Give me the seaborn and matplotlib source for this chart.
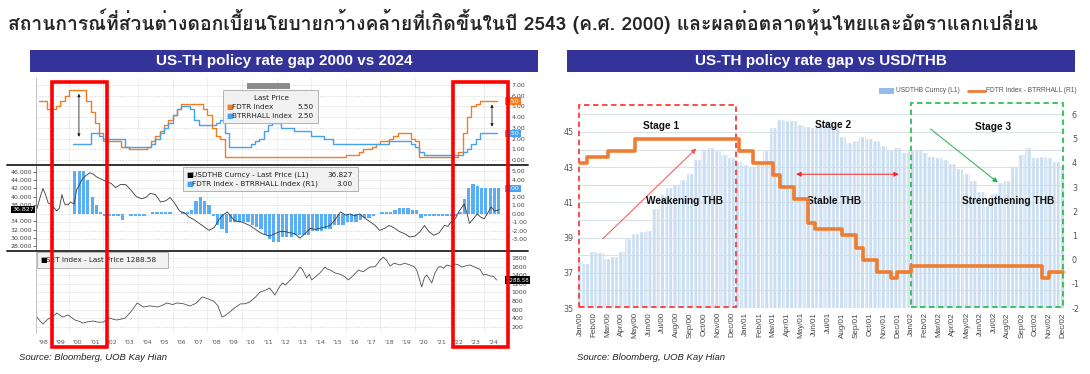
import numpy as np
import matplotlib
matplotlib.use('Agg')
import matplotlib.pyplot as plt
import seaborn as sns
from matplotlib import font_manager as fm
from matplotlib.patches import Rectangle
from matplotlib.lines import Line2D
from matplotlib.ticker import MultipleLocator

# ---------------- data ----------------
title_th = 'สถานการณ์ที่ส่วนต่างดอกเบี้ยนโยบายกว้างคล้ายที่เกิดขึ้นในปี 2543 (ค.ศ. 2000) และผลต่อตลาดหุ้นไทยและอัตราแลกเปลี่ยน'
left_title = 'US-TH policy rate gap 2000 vs 2024'
right_title = 'US-TH policy rate gap vs USD/THB'
source = 'Source: Bloomberg, UOB Kay Hian'

# quarterly policy rates, 1997 Q4 .. 2024 Q2 (chart time axis)
quarter_year = np.arange(1997.75, 2024.3, 0.25)
fdtr = [
    5.5,
    5.5, 4.75, 4.75, 5.0,      # 1998
    5.5, 6.0, 6.5, 6.5,        # 1999
    6.5, 6.5, 5.5, 4.5,        # 2000
    3.5, 2.5, 1.75, 1.75,      # 2001
    1.75, 1.75, 1.25, 1.25,    # 2002
    1.0, 1.0, 1.0, 1.0,        # 2003
    1.25, 1.75, 2.25, 2.75,    # 2004
    3.25, 3.75, 4.25, 4.75,    # 2005
    5.25, 5.25, 5.25, 5.25,    # 2006
    5.25, 4.75, 4.25, 3.0,     # 2007
    2.25, 2.0, 0.25, 0.25,     # 2008
    0.25, 0.25, 0.25, 0.25,    # 2009
    0.25, 0.25, 0.25, 0.25,    # 2010
    0.25, 0.25, 0.25, 0.25,    # 2011
    0.25, 0.25, 0.25, 0.25,    # 2012
    0.25, 0.25, 0.25, 0.25,    # 2013
    0.25, 0.25, 0.25, 0.25,    # 2014
    0.25, 0.25, 0.5, 0.5,      # 2015
    0.5, 0.75, 1.0, 1.0,       # 2016
    1.25, 1.5, 1.75, 1.75,     # 2017
    2.0, 2.25, 2.5, 2.5,       # 2018
    2.5, 2.0, 1.75, 0.25,      # 2019
    0.25, 0.25, 0.25, 0.25,    # 2020
    0.25, 0.25, 0.25, 0.25,    # 2021
    0.75, 2.5, 4.0, 5.0,       # 2022
    5.25, 5.5, 5.5, 5.5,       # 2023
    5.5, 5.5,                  # 2024
]
nan = np.nan
btrrhall = [
    nan,
    nan, nan, nan, nan,        # 1998
    nan, nan, nan, 1.5,        # 1999
    1.5, 1.5, 1.5, 2.5,        # 2000
    2.5, 2.25, 2.0, 2.0,       # 2001
    2.0, 2.0, 2.0, 1.25,       # 2002
    1.25, 1.25, 1.25, 1.25,    # 2003
    1.25, 1.5, 2.0, 2.5,       # 2004
    3.0, 3.5, 4.25, 4.75,      # 2005
    5.0, 5.0, 4.75, 3.75,      # 2006
    3.25, 3.25, 3.25, 3.25,    # 2007
    3.5, 3.75, 2.5, 1.25,      # 2008
    1.25, 1.25, 1.25, 1.25,    # 2009
    1.5, 1.75, 2.0, 2.75,      # 2010
    3.25, 3.5, 3.5, 3.0,       # 2011
    3.0, 3.0, 2.75, 2.75,      # 2012
    2.75, 2.75, 2.25, 2.25,    # 2013
    2.25, 2.0, 2.0, 1.5,       # 2014
    1.5, 1.5, 1.5, 1.5,        # 2015
    1.5, 1.5, 1.5, 1.5,        # 2016
    1.5, 1.5, 1.5, 1.5,        # 2017
    1.75, 1.75, 1.75, 1.75,    # 2018
    1.75, 1.5, 1.25, 0.75,     # 2019
    0.5, 0.5, 0.5, 0.5,        # 2020
    0.5, 0.5, 0.5, 0.5,        # 2021
    0.5, 0.75, 1.0, 1.5,       # 2022
    2.0, 2.5, 2.5, 2.5,        # 2023
    2.5, 2.5,                  # 2024
]

usd_year = [
    1997.65, 1997.85, 1998.0, 1998.15, 1998.3, 1998.5, 1998.8, 1998.95, 1999.1, 1999.25,
    1999.45, 1999.6, 1999.8, 1999.95, 2000.1, 2000.25, 2000.45, 2000.7, 2000.9, 2001.1,
    2001.4, 2001.7, 2001.95, 2002.2, 2002.5, 2002.8, 2003.1, 2003.4, 2003.7, 2003.95,
    2004.2, 2004.5, 2004.8, 2005.1, 2005.35, 2005.6, 2005.9, 2006.2, 2006.45, 2006.7,
    2006.9, 2007.2, 2007.6, 2007.9, 2008.2, 2008.4, 2008.65, 2008.9, 2009.1, 2009.5,
    2009.95, 2010.3, 2010.65, 2011.1, 2011.4, 2011.7, 2012.0, 2012.3, 2012.55, 2012.85,
    2013.15, 2013.45, 2013.75, 2014.0, 2014.3, 2014.6, 2014.9, 2015.2, 2015.5, 2015.75,
    2016.0, 2016.3, 2016.6, 2016.9, 2017.2, 2017.45, 2017.75, 2018.0, 2018.3, 2018.6,
    2018.9, 2019.2, 2019.5, 2019.8, 2020.05, 2020.3, 2020.6, 2020.9, 2021.2, 2021.4,
    2021.6, 2021.85, 2022.05, 2022.35, 2022.5, 2022.65, 2022.85, 2023.1, 2023.3, 2023.5,
    2023.7, 2023.9, 2024.1, 2024.35,
]
usd_thb = [
    37.0, 40.0, 42.0, 40.5, 38.5, 38.0, 36.5, 37.2, 40.5, 38.2,
    38.0, 38.7, 38.2, 41.7, 42.8, 44.1, 45.0, 45.8, 45.5, 44.8,
    44.2, 43.6, 43.2, 42.2, 43.0, 42.9, 41.5, 40.0, 39.5, 39.8,
    40.8, 40.5, 38.7, 39.0, 39.8, 38.5, 36.5, 36.0, 35.0, 34.5,
    33.9, 33.0, 31.8, 32.5, 34.6, 35.5, 36.3, 35.0, 34.1, 33.8,
    33.0, 32.0, 31.0, 30.4, 31.0, 31.5, 31.5, 31.2, 31.0, 29.9,
    31.0, 32.3, 32.0, 32.3, 32.6, 33.0, 34.5, 36.3, 35.5, 35.8,
    35.3, 35.8, 34.8, 33.9, 33.0, 31.8, 32.3, 33.0, 32.4, 31.5,
    31.0, 30.2, 30.4, 31.5, 33.0, 31.5, 30.6, 31.2, 33.0, 32.8,
    33.9, 34.8, 36.5, 38.2, 36.0, 33.5, 34.5, 35.8, 35.0, 34.6,
    36.0, 37.5, 36.5, 36.8,
]

set_year = [
    1997.65, 1997.85, 1998.0, 1998.15, 1998.3, 1998.55, 1998.8, 1999.0, 1999.15, 1999.45,
    1999.65, 1999.85, 2000.1, 2000.3, 2000.6, 2000.9, 2001.2, 2001.5, 2001.7, 2001.87,
    2002.05, 2002.25, 2002.5, 2002.75, 2003.1, 2003.45, 2003.8, 2004.2, 2004.6, 2004.9,
    2005.15, 2005.5, 2005.75, 2006.1, 2006.5, 2006.85, 2007.2, 2007.5, 2007.85, 2008.1,
    2008.35, 2008.55, 2008.8, 2009.1, 2009.4, 2009.7, 2009.95, 2010.3, 2010.55, 2010.85,
    2011.1, 2011.4, 2011.7, 2011.87, 2012.0, 2012.2, 2012.47, 2012.86, 2013.0, 2013.24,
    2013.4, 2013.53, 2013.8, 2014.0, 2014.3, 2014.45, 2014.6, 2014.9, 2015.2, 2015.46,
    2015.65, 2015.9, 2016.23, 2016.5, 2016.9, 2017.2, 2017.48, 2017.67, 2017.85, 2018.06,
    2018.3, 2018.64, 2018.9, 2019.21, 2019.45, 2019.6, 2019.89, 2020.05, 2020.18, 2020.35,
    2020.47, 2020.65, 2020.85, 2021.0, 2021.15, 2021.33, 2021.6, 2021.82, 2022.0, 2022.2,
    2022.45, 2022.68, 2022.9, 2023.07, 2023.25, 2023.45, 2023.6, 2023.84, 2024.05, 2024.22,
]
set_index = [
    431, 330, 270, 330, 385, 430, 524, 470, 431, 478,
    420, 362, 330, 292, 320, 338, 310, 315, 380, 408,
    380, 362, 380, 408, 560, 756, 663, 690, 663, 700,
    756, 720, 756, 740, 686, 750, 895, 860, 802, 700,
    431, 470, 547, 650, 733, 740, 779, 900, 1011, 1050,
    1104, 941, 1150, 1220, 1173, 1250, 1360, 1590, 1530, 1336,
    1420, 1290, 1380, 1450, 1590, 1540, 1520, 1450, 1420, 1360,
    1290, 1380, 1520, 1480, 1590, 1600, 1750, 1820, 1750, 1613,
    1680, 1637, 1680, 1637, 1600, 1520, 1127, 1350, 1406, 1300,
    1220, 1450, 1590, 1600, 1560, 1637, 1610, 1660, 1640, 1590,
    1620, 1637, 1600, 1567, 1540, 1406, 1420, 1383, 1370, 1289,
]

# right chart: half-month steps, Jan/00 .. Dec/02 (0 = Jan/00)
thb_month = np.arange(0, 35.01, 0.5)
thb_rate = [
    37.6, 37.5, 38.2, 38.1, 37.8, 37.9, 38.2, 38.9, 39.2, 39.3,
    39.4, 40.6, 41.4, 41.8, 42.0, 42.3, 42.6, 43.4, 43.9, 44.1,
    43.9, 43.7, 43.5, 43.3, 43.1, 43.0, 43.2, 43.9, 45.2, 45.7,
    45.6, 45.6, 45.4, 45.3, 45.2, 45.4, 45.6, 45.3, 44.7, 44.4,
    44.5, 44.7, 44.6, 44.5, 44.2, 44.0, 44.1, 43.8, 43.9, 44.0,
    43.8, 43.6, 43.5, 43.4, 43.2, 42.9, 42.6, 42.2, 41.6, 40.8,
    41.5, 42.1, 42.2, 43.0, 43.7, 44.1, 43.5, 43.6, 43.5, 43.3, 43.0,
]
gap_rate = [
    4.0, 4.25, 4.25, 4.25, 4.5, 4.5, 4.5, 4.5, 5.0, 5.0,
    5.0, 5.0, 5.0, 5.0, 5.0, 5.0, 5.0, 5.0, 5.0, 5.0,
    5.0, 5.0, 5.0, 4.5, 4.5, 4.0, 4.0, 4.0, 3.5, 3.0,
    3.0, 2.5, 2.5, 1.5, 1.25, 1.25, 1.25, 1.25, 1.0, 1.0,
    0.5, 0.0, 0.0, -0.5, -0.5, -0.75, -0.5, -0.5, -0.25, -0.25,
    -0.25, -0.25, -0.25, -0.25, -0.25, -0.25, -0.25, -0.25, -0.25, -0.25,
    -0.25, -0.25, -0.25, -0.25, -0.25, -0.25, -0.25, -0.75, -0.5, -0.5, -0.5,
]
month_names = ['Jan', 'Feb', 'Mar', 'Apr', 'May', 'Jun', 'Jul', 'Aug', 'Sep', 'Oct', 'Nov', 'Dec']
year_codes = ['00', '01', '02']

# ---------------- fonts ----------------
sns.set_theme(style='white')
plt.rcParams['font.family'] = ['DejaVu Sans']
plt.rcParams['hatch.linewidth'] = 0.8
plt.rcParams['axes.unicode_minus'] = False

thai_font = None
for f in fm.fontManager.ttflist:
    try:
        if 0x0E2A in fm.get_font(f.fname).get_charmap():
            thai_font = f.name
            break
    except Exception:
        continue
names = {f.name for f in fm.fontManager.ttflist}
narrow = 'Liberation Sans Narrow' if 'Liberation Sans Narrow' in names else 'Liberation Sans'

W, H = 1090, 374
fig = plt.figure(figsize=(W / 100, H / 100), dpi=100)


def box(x0, y0, x1, y1):
    return [x0 / W, 1 - y1 / H, (x1 - x0) / W, (y1 - y0) / H]


def fx(x):
    return x / W


def fy(y):
    return 1 - y / H


# title + headers
fig.text(fx(8), fy(22), title_th, fontsize=13.9, fontweight='bold', ha='left', va='center',
         family=[thai_font, 'DejaVu Sans'] if thai_font else ['DejaVu Sans'])
for x0, x1, txt in [(30, 538, left_title), (567, 1075, right_title)]:
    fig.add_artist(Rectangle((fx(x0), fy(72)), (x1 - x0) / W, 22 / H, transform=fig.transFigure,
                             fc='#333399', ec='none'))
    fig.text(fx((x0 + x1) / 2), fy(61), txt, color='white', fontsize=11, fontweight='bold',
             family='Liberation Sans', ha='center', va='center')

# ---------------- left: Bloomberg style panels ----------------
orange = '#f47b20'
blue = '#45a2f2'
grid_years = np.arange(1999.5, 2024, 2)


def bbg(ax):
    ax.set_xlim(1997.6, 2024.76)
    for s in ax.spines.values():
        s.set_visible(False)
    ax.spines['left'].set_visible(True)
    ax.spines['left'].set_color('#bbbbbb')
    ax.spines['left'].set_linewidth(0.6)
    ax.set_xticks([])
    for g in grid_years:
        ax.axvline(g, color='#c8c8c8', lw=0.5, ls=(0, (1, 1.5)), zorder=0)
    ax.set_xlabel('')
    ax.set_ylabel('')
    ax.tick_params(axis='y', labelsize=4.5, labelcolor='#444444', length=0, pad=4)


ax1 = fig.add_axes(box(36, 78, 506, 164))
sns.lineplot(x=quarter_year, y=fdtr, ax=ax1, color=orange, lw=1.0, drawstyle='steps-post')
sns.lineplot(x=quarter_year, y=btrrhall, ax=ax1, color=blue, lw=1.0, drawstyle='steps-post')
bbg(ax1)
ax1.set_ylim(-0.37, 7.66)
ax1.yaxis.tick_right()
ax1.set_yticks(range(8))
ax1.set_yticklabels([f'{v:.2f}' for v in range(8)])
ax1.grid(axis='y', color='#d0d0d0', lw=0.5, ls=(0, (2, 2)))
for xa, y_top, y_bot in [(2000.08, 6.45, 1.9), (2023.95, 5.45, 2.85)]:
    ax1.annotate('', xy=(xa, y_top), xytext=(xa, y_bot),
                 arrowprops=dict(arrowstyle='<|-|>', color='#222222', lw=0.6, mutation_scale=4))
for val, col in [(5.5, orange), (2.5, blue)]:
    ax1.text(1.0, val, f'{val:.2f}', transform=ax1.get_yaxis_transform(), ha='left', va='center',
             fontsize=4.5, color='white', zorder=5,
             bbox=dict(boxstyle='square,pad=0.2', fc=col, ec='none'))

gap = np.array(fdtr) - np.array(btrrhall)
valid = ~np.isnan(gap)
ax2 = fig.add_axes(box(36, 165, 506, 250))
ax2.bar(quarter_year[valid], gap[valid], width=0.19, align='edge', color='#5aaef5', lw=0)
bbg(ax2)
ax2l = ax2.twinx()
ax2.set_ylim(-4.24, 5.76)
ax2.yaxis.tick_right()
ax2.set_yticks(range(-3, 6))
# the 3.00 level is covered by the last-value tag
ax2.set_yticklabels(['' if v == 3 else f'{v:.2f}' for v in range(-3, 6)])
ax2.tick_params(axis='y', labelsize=4.5, labelcolor='#444444', length=0, pad=4)
ax2.grid(axis='y', color='#d0d0d0', lw=0.5, ls=(0, (2, 2)))
ax2.text(1.0, 3.0, '3.00', transform=ax2.get_yaxis_transform(), ha='left', va='center',
         fontsize=4.5, color='white', zorder=5, bbox=dict(boxstyle='square,pad=0.2', fc=blue, ec='none'))

sns.lineplot(x=usd_year, y=usd_thb, ax=ax2l, color='#3a3a3a', lw=0.6)
ax2l.set_xlim(1997.6, 2024.76)
ax2l.set_ylim(27.02, 47.70)
for s in ax2l.spines.values():
    s.set_visible(False)
ax2l.spines['left'].set_visible(True)
ax2l.spines['left'].set_color('#777777')
ax2l.spines['left'].set_linewidth(0.6)
ax2l.yaxis.tick_left()
usd_ticks = [28, 30, 32, 34, 38, 40, 42, 44, 46]
ax2l.set_yticks(usd_ticks)
ax2l.set_yticklabels([f'{v:.3f}' for v in usd_ticks])
ax2l.tick_params(axis='y', labelsize=4.5, labelcolor='#444444', length=2, width=0.5, color='#333333', pad=1)
ax2l.set_ylabel('')
ax2l.text(-0.004, 36.827, '36.827', transform=ax2l.get_yaxis_transform(), ha='right', va='center',
          fontsize=4.5, color='white', zorder=5, bbox=dict(boxstyle='square,pad=0.15', fc='black', ec='none'))

ax3 = fig.add_axes(box(36, 251, 506, 333))
sns.lineplot(x=set_year, y=set_index, ax=ax3, color='#505050', lw=0.6)
bbg(ax3)
ax3.set_ylim(60, 1962)
ax3.yaxis.tick_right()
ax3.set_yticks(range(200, 1801, 200))
ax3.grid(axis='y', color='#d0d0d0', lw=0.5, ls=(0, (2, 2)))
years = list(range(1998, 2025))
ax3.set_xticks(years)
ax3.set_xticklabels([f"'{y % 100:02d}" for y in years])
ax3.tick_params(axis='x', labelsize=4.5, labelcolor='#555555', length=0, pad=5)
ax3.text(1.0, 1288.58, '1288.58', transform=ax3.get_yaxis_transform(), ha='left', va='center',
         fontsize=4.0, color='white', zorder=5, bbox=dict(boxstyle='square,pad=0.2', fc='black', ec='none'))

# panel separators
for yy in (164.5, 250.5):
    fig.add_artist(Line2D([fx(7), fx(528)], [fy(yy), fy(yy)], transform=fig.transFigure,
                          color='#333333', lw=1.4))

# Bloomberg legend boxes
def legend_box(x0, y0, x1, y1):
    fig.add_artist(Rectangle((fx(x0), fy(y1)), (x1 - x0) / W, (y1 - y0) / H, transform=fig.transFigure,
                             fc='#f1f1f1', ec='#a8a8a8', lw=0.6, zorder=4))


legend_box(223, 90, 318, 123)
fig.add_artist(Rectangle((fx(247), fy(89)), 43 / W, 6 / H, transform=fig.transFigure,
                         fc='#8c8c8c', ec='none', zorder=4))
fig.text(fx(271), fy(98), 'Last Price', fontsize=5.2, ha='center', va='center', color='#222222', zorder=6)
for yy, col, label, val in [(107, orange, 'FDTR Index', '5.50'), (116, blue, 'BTRRHALL Index', '2.50')]:
    fig.text(fx(226), fy(yy), '■', fontsize=5, color=col, ha='left', va='center', zorder=6)
    fig.text(fx(232), fy(yy), label, fontsize=5.2, ha='left', va='center', color='#222222', zorder=6)
    fig.text(fx(314), fy(yy), val, fontsize=5.2, ha='right', va='center', color='#222222', zorder=6)

legend_box(183, 167, 358, 191)
for yy, col, label, val in [(175, 'black', 'USDTHB Curncy - Last Price (L1)', '36.827'),
                            (184, blue, 'FDTR Index - BTRRHALL Index (R1)', '3.00')]:
    fig.text(fx(186), fy(yy), '■', fontsize=5, color=col, ha='left', va='center', zorder=6)
    fig.text(fx(192), fy(yy), label, fontsize=5.2, ha='left', va='center', color='#222222', zorder=6)
    fig.text(fx(353), fy(yy), val, fontsize=5.2, ha='right', va='center', color='#222222', zorder=6)

legend_box(37, 252, 168, 268)
fig.text(fx(40), fy(260), '■', fontsize=5, color='black', ha='left', va='center', zorder=6)
fig.text(fx(46), fy(260), 'SET Index - Last Price 1288.58', fontsize=5.2, ha='left', va='center',
         color='#222222', zorder=6)

# red highlight boxes
for x0, x1 in [(52, 107), (453, 508)]:
    fig.add_artist(Rectangle((fx(x0), fy(347)), (x1 - x0) / W, 265 / H, transform=fig.transFigure,
                             fill=False, ec='#ff0000', lw=2.6, zorder=10))

# ---------------- right: USD/THB vs policy gap ----------------
axb = fig.add_axes(box(578, 98, 1065, 308))
axb.bar(thb_month, thb_rate, width=0.5, fc='#c9def2', ec='white', lw=0.3, hatch='||||')
axb.set_xlim(-0.145, 35.14)
axb.set_ylim(35, 46.93)
axb.set_yticks([35, 37, 39, 41, 43, 45])
axb.yaxis.set_minor_locator(MultipleLocator(1))
axb.set_axisbelow(False)
axb.grid(axis='y', which='both', color='#d3dbe4', lw=0.6)
for s in axb.spines.values():
    s.set_visible(False)
axb.set_xticks(range(36))
axb.set_xticklabels([f'{m}/{y}' for y in year_codes for m in month_names], rotation=90,
                    family='Liberation Sans')
axb.tick_params(axis='x', labelsize=5.8, labelcolor='#444444', length=0, pad=3)
axb.tick_params(axis='y', which='both', labelsize=5.8, labelcolor='#555555', length=0, pad=3)

axb2 = axb.twinx()
sns.lineplot(x=thb_month, y=gap_rate, ax=axb2, color='#ee7d31', lw=2.6, drawstyle='steps-post')
axb2.set_ylim(-2, 6.68)
axb2.set_yticks(range(-2, 7))
axb2.set_ylabel('')
for s in axb2.spines.values():
    s.set_visible(False)
axb2.tick_params(axis='y', labelsize=5.8, labelcolor='#555555', length=0, pad=5)

# stage boxes (left-axis units)
axb.add_patch(Rectangle((-0.1, 35.03), 11.4, 11.5, fill=False, ec='#ff3b3b', lw=1.3,
                        ls=(0, (3, 2)), clip_on=False, zorder=6))
axb.add_patch(Rectangle((23.99, 35.03), 11.0, 11.62, fill=False, ec='#2fbf55', lw=1.3,
                        ls=(0, (3, 2)), clip_on=False, zorder=6))
stage_font = dict(family=narrow, fontweight='bold', fontsize=7.3, color='#111111', ha='center',
                  va='center', zorder=7)
axb.text(5.9, 45.36, 'Stage 1', **stage_font)
axb.text(18.3, 45.4, 'Stage 2', **stage_font)
axb.text(29.9, 45.3, 'Stage 3', **stage_font)
axb.text(7.55, 41.1, 'Weakening THB', **stage_font)
axb.text(18.4, 41.1, 'Stable THB', **stage_font)
axb.text(31.0, 41.1, 'Strengthening THB', **stage_font)
axb.annotate('', xy=(8.57, 44.17), xytext=(1.5, 38.82),
             arrowprops=dict(arrowstyle='-|>', color='#ff4d4d', lw=0.7, mutation_scale=7))
axb.annotate('', xy=(23.3, 42.6), xytext=(15.46, 42.6),
             arrowprops=dict(arrowstyle='<|-|>', color='#ff2222', lw=0.7, mutation_scale=7))
axb.annotate('', xy=(30.43, 42.03), xytext=(25.24, 45.27),
             arrowprops=dict(arrowstyle='-|>', color='#22b04a', lw=0.7, mutation_scale=7))

# right legend
fig.add_artist(Rectangle((fx(879), fy(94)), 15 / W, 6 / H, transform=fig.transFigure, fc='#93bde6', ec='none'))
fig.text(fx(896), fy(91), 'USDTHB Curncy (L1)', fontsize=4.8, color='#555555', ha='left', va='center',
         family='Liberation Sans')
fig.add_artist(Line2D([fx(968), fx(985)], [fy(91), fy(91)], transform=fig.transFigure, color='#ee7d31', lw=2))
fig.text(fx(986), fy(91), 'FDTR Index - BTRRHALL (R1)', fontsize=4.8, color='#555555', ha='left', va='center',
         family='Liberation Sans')

# sources
for xs in (19, 577):
    fig.text(fx(xs), fy(357), source, fontsize=6.8, style='italic', family='Liberation Sans',
             ha='left', va='center', color='#222222')

fig.savefig('out.png', dpi=100)
